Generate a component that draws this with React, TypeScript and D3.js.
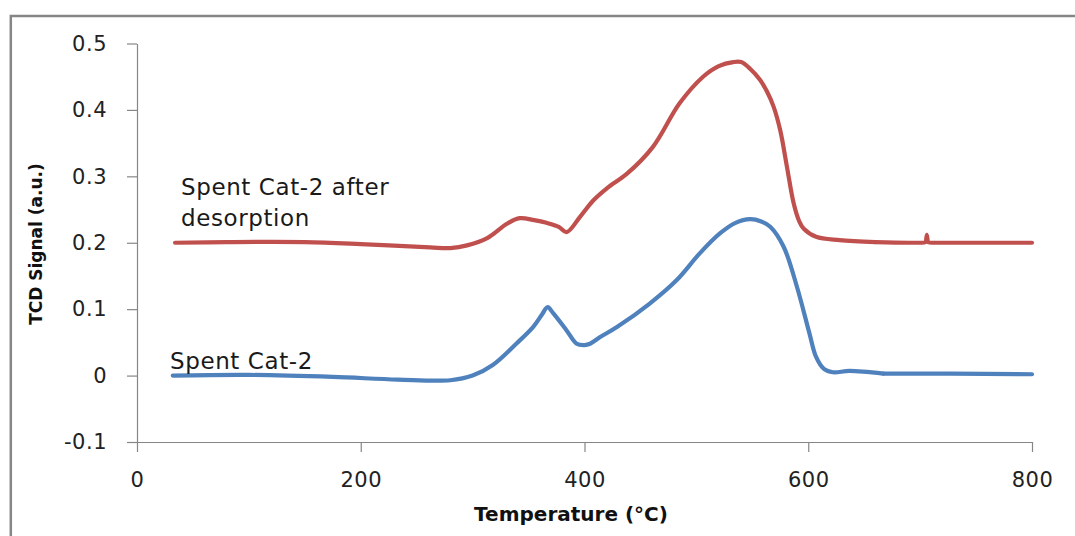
import React, { useRef, useEffect } from "react";
import * as d3 from "d3";

// temperatures (°C) and TCD signal
const desorbedTemps = [34, 80, 150, 200, 262, 280, 295, 313, 331, 342, 355, 366, 377, 384, 396, 408, 420, 438, 461, 485, 506, 520, 533, 540, 548, 557, 563, 569, 575, 581, 587, 592, 596, 607, 628, 660, 690, 702, 705, 706, 707, 710, 722, 760, 800];
const desorbedSignal = [0.2, 0.201, 0.201, 0.198, 0.193, 0.192, 0.196, 0.207, 0.229, 0.237, 0.234, 0.23, 0.224, 0.216, 0.239, 0.264, 0.282, 0.304, 0.344, 0.41, 0.45, 0.466, 0.472, 0.472, 0.462, 0.445, 0.428, 0.405, 0.369, 0.314, 0.259, 0.232, 0.221, 0.209, 0.204, 0.201, 0.2, 0.2, 0.201, 0.212, 0.201, 0.2, 0.2, 0.2, 0.2];

const spentTemps = [32, 100, 175, 233, 280, 300, 318, 339, 354, 362, 367, 372, 384, 393, 400, 405, 414, 429, 458, 482, 503, 521, 535, 548, 558, 566, 578, 590, 601, 607, 614, 622, 637, 667, 727, 800];
const spentSignal = [0, 0.001, -0.002, -0.006, -0.007, 0, 0.016, 0.048, 0.073, 0.092, 0.103, 0.094, 0.068, 0.048, 0.046, 0.048, 0.058, 0.073, 0.108, 0.143, 0.184, 0.214, 0.23, 0.2355, 0.232, 0.224, 0.194, 0.133, 0.064, 0.028, 0.01, 0.005, 0.007, 0.003, 0.003, 0.002];

const xTicks = [0, 200, 400, 600, 800];
const yTicks = [-0.1, 0, 0.1, 0.2, 0.3, 0.4, 0.5];
const yTickLabels = ["-0.1", "0", "0.1", "0.2", "0.3", "0.4", "0.5"];

const App = () => {
  const svgRef = useRef<SVGSVGElement>(null);
  const width = 1075;
  const height = 536;
  const margin = { top: 43.5, right: 43, bottom: 94, left: 137 };

  useEffect(() => {
    const svg = d3.select(svgRef.current);
    svg.selectAll("*").remove();

    const x = d3.scaleLinear().domain([0, 800]).range([margin.left, width - margin.right]);
    const y = d3.scaleLinear().domain([-0.1, 0.5]).range([height - margin.bottom, margin.top]);

    svg.append("rect").attr("width", width).attr("height", height).attr("fill", "white");

    // chart frame, runs off the right and bottom edges
    svg
      .append("rect")
      .attr("x", 10.8)
      .attr("y", 16)
      .attr("width", width + 20)
      .attr("height", height + 20)
      .attr("fill", "none")
      .attr("stroke", "#868686")
      .attr("stroke-width", 2.5);

    const font = "'DejaVu Sans', sans-serif";

    const yAxis = svg
      .append("g")
      .attr("transform", `translate(${margin.left},0)`)
      .call(
        d3
          .axisLeft(y)
          .tickValues(yTicks)
          .tickFormat((d, i) => yTickLabels[i])
          .tickSize(10)
          .tickSizeOuter(0)
          .tickPadding(20)
      );

    const xAxis = svg
      .append("g")
      .attr("transform", `translate(0,${height - margin.bottom})`)
      .call(
        d3
          .axisBottom(x)
          .tickValues(xTicks)
          .tickFormat(d3.format("d"))
          .tickSize(10)
          .tickSizeOuter(0)
          .tickPadding(20)
      );

    [xAxis, yAxis].forEach((g) => {
      g.select(".domain").attr("stroke", "#868686").attr("stroke-width", 1.2);
      g.selectAll(".tick line").attr("stroke", "#868686").attr("stroke-width", 1.2);
      g.selectAll(".tick text")
        .attr("fill", "#222")
        .style("font-family", font)
        .style("font-size", "21px")
        .style("letter-spacing", "0.5px");
    });

    const line = d3
      .line<[number, number]>()
      .x((d) => x(d[0]))
      .y((d) => y(d[1]))
      .curve(d3.curveMonotoneX);

    const smooth = d3
      .line<[number, number]>()
      .x((d) => x(d[0]))
      .y((d) => y(d[1]))
      .curve(d3.curveCatmullRom.alpha(0.5));

    const series = [
      { temps: desorbedTemps, values: desorbedSignal, color: "#C0504D" },
      { temps: spentTemps, values: spentSignal, color: "#4F81BD" },
    ];

    series.forEach((s) => {
      const pts = s.temps.map((t, i) => [t, s.values[i]] as [number, number]);
      // catmull-rom for the broad peaks, monotone where the spike sits
      const split = s.temps.findIndex((t) => t >= 660);
      const head = split > 0 ? pts.slice(0, split + 1) : pts;
      const tail = split > 0 ? pts.slice(split) : [];
      [
        { d: head, gen: smooth },
        { d: tail, gen: line },
      ].forEach((part) => {
        if (part.d.length < 2) return;
        svg
          .append("path")
          .datum(part.d)
          .attr("fill", "none")
          .attr("stroke", s.color)
          .attr("stroke-width", 4.2)
          .attr("stroke-linejoin", "round")
          .attr("stroke-linecap", "round")
          .attr("d", part.gen);
      });
    });

    // series labels
    const labels = [
      { text: "Spent Cat-2 after", x: 181, y: 195 },
      { text: "desorption", x: 181, y: 226 },
      { text: "Spent Cat-2", x: 170, y: 369 },
    ];
    svg
      .selectAll(".series-label")
      .data(labels)
      .enter()
      .append("text")
      .attr("class", "series-label")
      .attr("x", (d) => d.x)
      .attr("y", (d) => d.y)
      .style("font-family", font)
      .style("font-size", "23px")
      .style("letter-spacing", "0.6px")
      .attr("fill", "#1a1a1a")
      .text((d) => d.text);

    // axis titles
    svg
      .append("text")
      .attr("x", 571)
      .attr("y", 521)
      .attr("text-anchor", "middle")
      .style("font-family", font)
      .style("font-size", "20px")
      .style("font-weight", "bold")
      .attr("fill", "#111")
      .text("Temperature (°C)");

    svg
      .append("text")
      .attr("transform", `translate(42,244) rotate(-90)`)
      .attr("text-anchor", "middle")
      .style("font-family", font)
      .style("font-size", "17px")
      .style("font-weight", "bold")
      .attr("fill", "#111")
      .text("TCD Signal (a.u.)");
  }, []);

  return (
    <svg
      ref={svgRef}
      width={width}
      height={height}
      style={{ position: "absolute", left: 0, top: 0 }}
    ></svg>
  );
};

export default App;
